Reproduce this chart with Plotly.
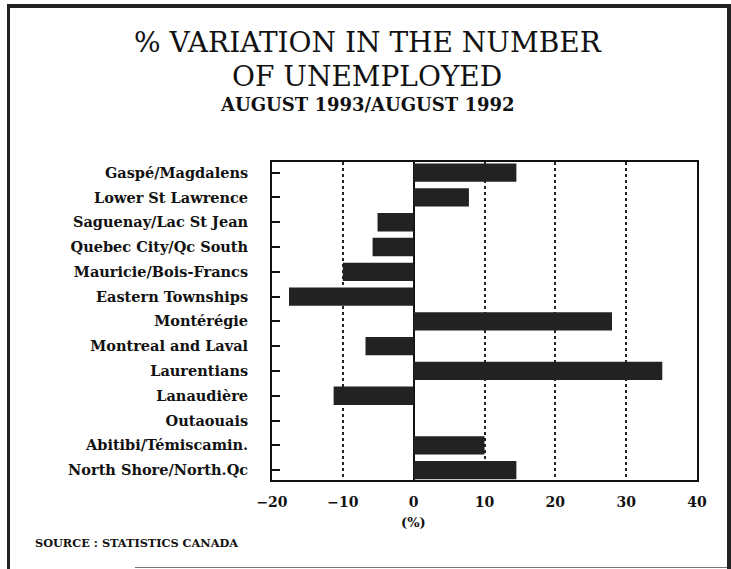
import plotly.graph_objects as go

regions = ["Gaspé/Magdalens", "Lower St Lawrence", "Saguenay/Lac St Jean",
           "Quebec City/Qc South", "Mauricie/Bois-Francs", "Eastern Townships",
           "Montérégie", "Montreal and Laval", "Laurentians", "Lanaudière",
           "Outaouais", "Abitibi/Témiscamin.", "North Shore/North.Qc"]
variation = [14.5, 7.8, -5.1, -5.8, -10.0, -17.6, 28.0, -6.8, 35.1, -11.3, 0.0, 10.0, 14.5]
x_ticks = [-20, -10, 0, 10, 20, 30, 40]

W, H = 731, 569
L, R, T, B = 272, 697, 162, 480

def px(x):
    return (x - L) / (R - L)

def py(y):
    return (B - y) / (B - T)

fig = go.Figure(go.Bar(
    x=variation, y=regions, orientation="h",
    marker=dict(color="#222222", line=dict(width=0)),
    hoverinfo="x+y",
))

fig.update_layout(
    width=W, height=H,
    margin=dict(l=L, r=W - R, t=T, b=H - B),
    paper_bgcolor="white", plot_bgcolor="white",
    showlegend=False, bargap=0.26,
    font=dict(family="DejaVu Serif", color="#111111"),
)

fig.update_xaxes(
    range=[-20, 40], tickvals=x_ticks, ticks="",
    tickfont=dict(family="DejaVu Serif", size=14, color="#111111", weight="bold"),
    ticklabelstandoff=8,
    showgrid=True, gridcolor="#222222", gridwidth=2, griddash="dot",
    zeroline=True, zerolinecolor="#111111", zerolinewidth=2,
    showline=True, linecolor="#111111", linewidth=2, mirror=True,
)
fig.update_yaxes(
    type="category", categoryorder="array", categoryarray=regions,
    range=[12.4, -0.43],
    ticks="inside", ticklen=8, tickwidth=2, tickcolor="#111111",
    tickfont=dict(family="DejaVu Serif", size=14.5, color="#111111", weight="bold"),
    ticklabelstandoff=19,
    showgrid=False, zeroline=False,
    showline=True, linecolor="#111111", linewidth=2, mirror=True,
)

annotations = [
    dict(text="% VARIATION IN THE NUMBER", x=px(368), y=py(42),
         font=dict(family="DejaVu Serif", size=28, color="#111111")),
    dict(text="OF UNEMPLOYED", x=px(367), y=py(77),
         font=dict(family="DejaVu Serif", size=28, color="#111111")),
    dict(text="<b>AUGUST 1993/AUGUST 1992</b>", x=px(367), y=py(104),
         font=dict(family="DejaVu Serif", size=18, color="#111111")),
    dict(text="<b>(%)</b>", x=px(413), y=py(522),
         font=dict(family="DejaVu Serif", size=13, color="#111111")),
]
for a in annotations:
    a.update(xref="paper", yref="paper", showarrow=False, xanchor="center", yanchor="middle")
annotations.append(dict(text="<b>SOURCE : STATISTICS CANADA</b>", x=px(33), y=py(543),
                        xref="paper", yref="paper", showarrow=False,
                        xanchor="left", yanchor="middle",
                        font=dict(family="DejaVu Serif", size=11.3, color="#111111")))
fig.update_layout(annotations=annotations)

border = [
    (8.5, 5, 8.5, 569, 3),
    (7, 6, 731, 6, 4),
    (729, 4, 729, 569, 4),
]
shapes = [dict(type="line", xref="paper", yref="paper",
               x0=px(a), y0=py(b), x1=px(c), y1=py(d),
               line=dict(color="#222222", width=w)) for a, b, c, d, w in border]
shapes.append(dict(type="line", xref="paper", yref="paper",
                   x0=px(135), y0=py(567.5), x1=px(727), y1=py(567.5),
                   line=dict(color="#777777", width=1)))
fig.update_layout(shapes=shapes)

fig.write_html("out.html",
               config={"displayModeBar": False},
               post_script="document.body.style.margin='0';"
                           "document.documentElement.style.overflow='hidden';")
